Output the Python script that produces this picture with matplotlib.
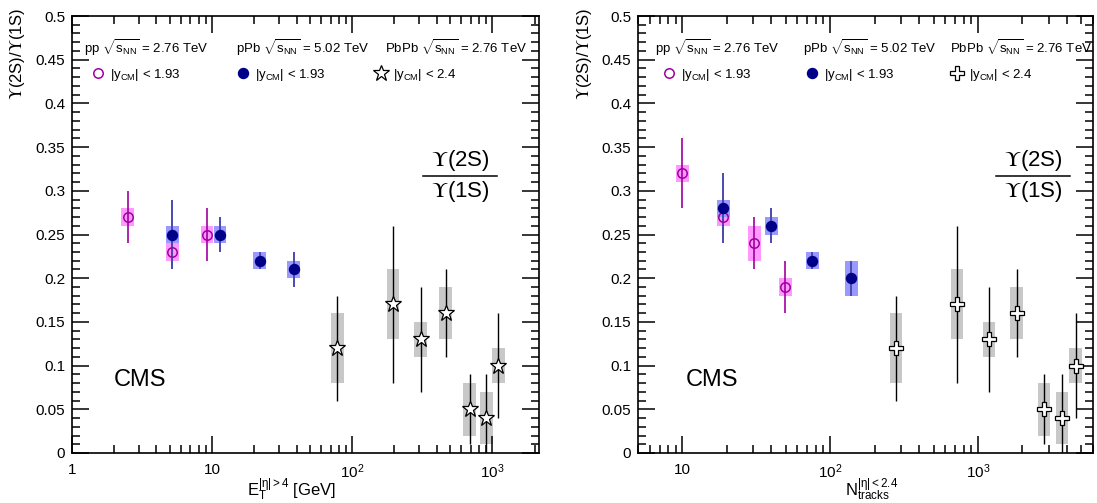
import numpy as np
import matplotlib
matplotlib.use("Agg")
import matplotlib.pyplot as plt
from matplotlib.ticker import MultipleLocator, LogLocator, FuncFormatter, NullFormatter
from matplotlib.lines import Line2D

plt.rcParams['font.family'] = ['Liberation Sans', 'DejaVu Sans']
plt.rcParams['mathtext.fontset'] = 'custom'
plt.rcParams['mathtext.rm'] = 'Liberation Sans'
plt.rcParams['mathtext.it'] = 'Liberation Sans'
plt.rcParams['mathtext.bf'] = 'Liberation Sans:bold'

# ---------------- data ----------------
# Left panel: versus E_T (|eta|>4) [GeV]
et_pp = [2.5, 5.2, 9.2]
r_pp_et = [0.27, 0.23, 0.25]
stat_pp_et = [0.03, 0.02, 0.03]
syst_pp_et = [0.01, 0.01, 0.01]

et_ppb = [5.2, 11.4, 21.9, 38.2]
r_ppb_et = [0.25, 0.25, 0.22, 0.21]
stat_ppb_et = [0.04, 0.02, 0.01, 0.02]
syst_ppb_et = [0.01, 0.01, 0.01, 0.01]

et_pbpb = [78, 195, 308, 465, 687, 906, 1100]
r_pbpb = [0.12, 0.17, 0.13, 0.16, 0.05, 0.04, 0.10]
stat_pbpb = [0.06, 0.09, 0.06, 0.05, 0.04, 0.05, 0.06]
syst_pbpb = [0.04, 0.04, 0.02, 0.03, 0.03, 0.03, 0.02]

# Right panel: versus N_tracks (|eta|<2.4)
n_pp = [10, 18.9, 30.6, 49.7]
r_pp_n = [0.32, 0.27, 0.24, 0.19]
stat_pp_n = [0.04, 0.02, 0.03, 0.03]
syst_pp_n = [0.01, 0.01, 0.02, 0.01]

n_ppb = [18.9, 40, 75.5, 139]
r_ppb_n = [0.28, 0.26, 0.22, 0.20]
stat_ppb_n = [0.04, 0.02, 0.01, 0.02]
syst_ppb_n = [0.01, 0.01, 0.01, 0.02]

n_pbpb = [279, 721, 1186, 1825, 2793, 3700, 4590]

y_ticks = [0, 0.05, 0.1, 0.15, 0.2, 0.25, 0.3, 0.35, 0.4, 0.45, 0.5]
x_ticks_left = [1, 10, 100, 1000]
x_ticks_right = [10, 100, 1000]

# ---------------- styles ----------------
W, H = 1097, 503
C_PP = '#a000a0'
C_PP_BOX = '#ff99ff'
C_PPB = '#000088'
C_PPB_BAR = '#4a4ab0'
C_PPB_BOX = '#9999ff'
C_PB_BOX = '#c8c8c8'

fig = plt.figure(figsize=(W / 100, H / 100), dpi=100)
ax1 = fig.add_axes([72 / W, 50 / H, (539 - 72) / W, 437 / H])
ax2 = fig.add_axes([638 / W, 50 / H, (1093 - 638) / W, 437 / H])


def boxes(ax, x, y, s, color, fac):
    x = np.asarray(x, float); y = np.asarray(y, float); s = np.asarray(s, float)
    ax.bar(x / fac, 2 * s, width=x * fac - x / fac, bottom=y - s,
           align='edge', color=color, edgecolor='none', zorder=1)


def errs(ax, x, y, e, color, lw):
    ax.errorbar(x, y, yerr=e, fmt='none', ecolor=color, elinewidth=lw,
                capsize=0, zorder=2)


def draw_panel(ax, xpp, rpp, spp, ypp, xpb, rpb, spb, ypb, xaa, fac, aa_marker, aa_ms):
    boxes(ax, xaa, r_pbpb, syst_pbpb, C_PB_BOX, fac)
    boxes(ax, xpp, rpp, ypp, C_PP_BOX, fac)
    boxes(ax, xpb, rpb, ypb, C_PPB_BOX, fac)
    errs(ax, xaa, r_pbpb, stat_pbpb, 'black', 1.0)
    errs(ax, xpp, rpp, spp, C_PP, 1.2)
    errs(ax, xpb, rpb, spb, C_PPB_BAR, 1.4)
    h_pp, = ax.plot(xpp, rpp, ls='none', marker='o', ms=6.8, mfc='none',
                    mec=C_PP, mew=1.1, zorder=3)
    h_pb, = ax.plot(xpb, rpb, ls='none', marker='o', ms=7.2, mfc=C_PPB,
                    mec=C_PPB, zorder=4)
    h_aa, = ax.plot(xaa, r_pbpb, ls='none', marker=aa_marker, ms=aa_ms,
                    mfc='white', mec='black', mew=0.9, zorder=4)
    return h_pp, h_pb, h_aa


def fmt_x(v, pos):
    if v < 1.5:
        return '1'
    if v < 15:
        return '10'
    return r'$10^{%d}$' % int(round(np.log10(v)))


def style(ax, xlim, xt):
    ax.set_xscale('log')
    ax.set_xlim(*xlim)
    ax.set_ylim(0, 0.5)
    ax.set_xticks(xt)
    ax.xaxis.set_major_formatter(FuncFormatter(fmt_x))
    ax.xaxis.set_minor_locator(LogLocator(base=10, subs=np.arange(2, 10), numticks=20))
    ax.xaxis.set_minor_formatter(NullFormatter())
    ax.set_yticks(y_ticks)
    ax.yaxis.set_major_formatter(FuncFormatter(lambda v, p: '%g' % round(v, 3)))
    ax.yaxis.set_minor_locator(MultipleLocator(0.01))
    ax.tick_params(which='both', direction='in', top=True, right=True, width=1.1,
                   labelsize=11)
    ax.tick_params(which='major', length=12)
    ax.tick_params(which='minor', length=6)
    ax.tick_params(axis='x', which='major', pad=7)
    ax.tick_params(axis='y', which='major', pad=5)
    for sp in ax.spines.values():
        sp.set_linewidth(1.2)


hL = draw_panel(ax1, et_pp, r_pp_et, stat_pp_et, syst_pp_et,
                et_ppb, r_ppb_et, stat_ppb_et, syst_ppb_et, et_pbpb, 1.11, '*', 12)
hR = draw_panel(ax2, n_pp, r_pp_n, stat_pp_n, syst_pp_n,
                n_ppb, r_ppb_n, stat_ppb_n, syst_ppb_n, n_pbpb, 1.104, 'P', 10)
style(ax1, (1, 2150), x_ticks_left)
style(ax2, (5, 6000), x_ticks_right)


def ftext(px, py, s, **kw):
    return fig.text(px / W, 1 - py / H, s, **kw)


UPS = r'$\Upsilon$'

# y labels
for px in (18, 584):
    ftext(px, 8, UPS + '(2S)/' + UPS + '(1S)', rotation=90, ha='center', va='top',
          fontsize=12, math_fontfamily='stix')

# x labels
ftext(292, 490, r'E$_{\mathrm{T}}^{|\eta|>4}$ [GeV]', ha='center', va='center', fontsize=12)
ftext(872, 490, r'N$_{\mathrm{tracks}}^{|\eta|<2.4}$', ha='center', va='center', fontsize=12)

# headers and legends
hdr = [r'pp $\sqrt{s_{\mathrm{NN}}}$ = 2.76 TeV',
       r'pPb $\sqrt{s_{\mathrm{NN}}}$ = 5.02 TeV',
       r'PbPb $\sqrt{s_{\mathrm{NN}}}$ = 2.76 TeV']
lab = [r'|y$_{\mathrm{CM}}$| < 1.93', r'|y$_{\mathrm{CM}}$| < 1.93', r'|y$_{\mathrm{CM}}$| < 2.4']

hdr_x = {'L': [84, 236, 385], 'R': [655, 803, 950]}
mk_x = {'L': [98, 243, 381], 'R': [669, 812, 957]}
for key, handles in (('L', hL), ('R', hR)):
    for i in range(3):
        ftext(hdr_x[key][i], 48, hdr[i], ha='left', va='center', fontsize=9.5)
        leg = fig.legend([handles[i]], [lab[i]], loc='center left',
                         bbox_to_anchor=((mk_x[key][i] - 6.5) / W, 1 - 75 / H),
                         frameon=False, fontsize=9.5, handlelength=1.0,
                         handletextpad=0.4, borderpad=0, borderaxespad=0,
                         numpoints=1)

# CMS labels
ftext(140, 380, 'CMS', ha='center', va='center', fontsize=17)
ftext(712, 380, 'CMS', ha='center', va='center', fontsize=17)

# ratio labels
for cx in (460, 1033):
    ftext(cx, 160, UPS + '(2S)', ha='center', va='center', fontsize=16,
          math_fontfamily='stix')
    ftext(cx, 192, UPS + '(1S)', ha='center', va='center', fontsize=16,
          math_fontfamily='stix')
    fig.add_artist(Line2D([(cx - 37) / W, (cx + 37) / W], [1 - 176 / H, 1 - 176 / H],
                          transform=fig.transFigure, color='black', lw=1.1))

fig.savefig('out.png', dpi=100)
